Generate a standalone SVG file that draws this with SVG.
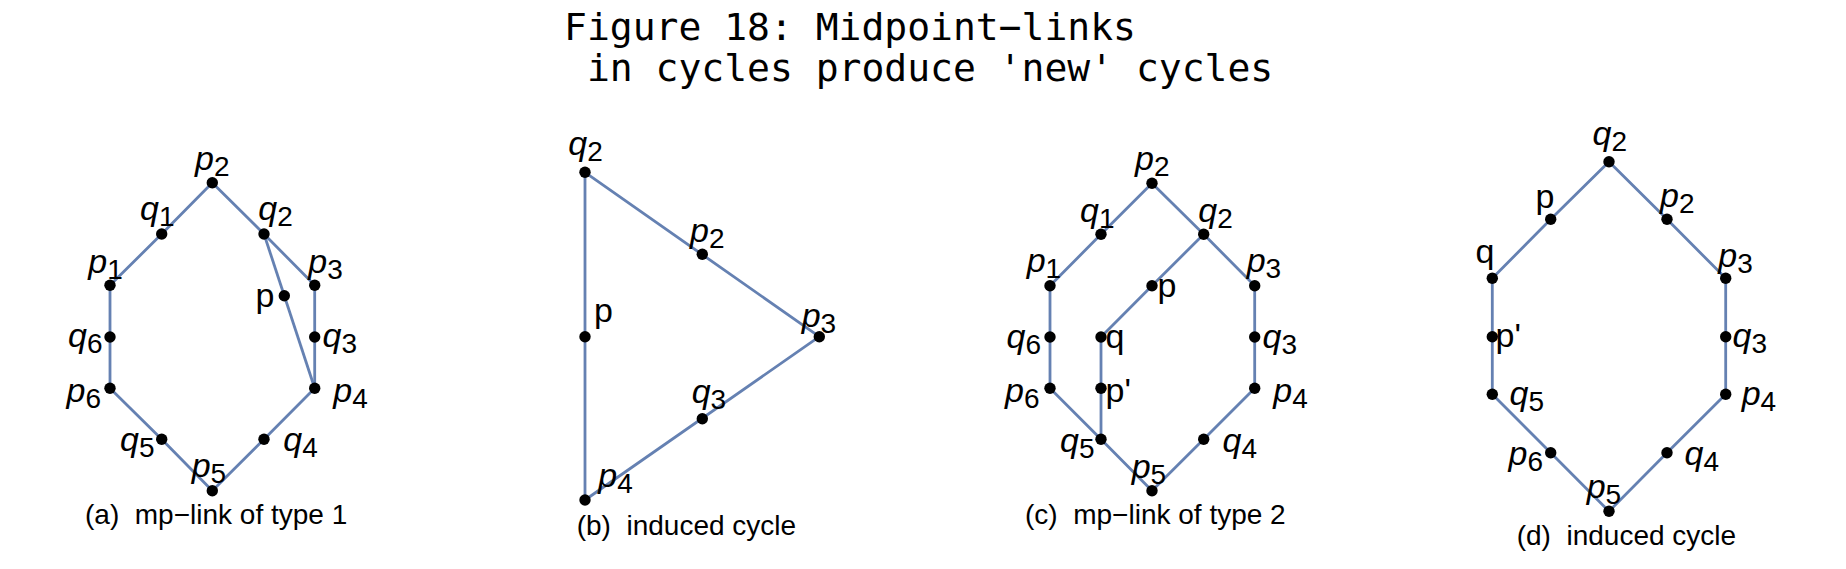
<svg xmlns="http://www.w3.org/2000/svg" width="1846" height="569" viewBox="0 0 1846 569">
<style>
.title{font-family:"DejaVu Sans Mono",monospace;font-size:38px;fill:#000;white-space:pre}
.cap{font-family:"Liberation Sans",Arial,sans-serif;font-size:28px;fill:#000;white-space:pre}
.lb{font-family:"Liberation Sans",Arial,sans-serif;font-size:34px;fill:#000}
.it{font-style:italic}
.sub{font-size:28px;font-style:normal}
.dot{fill:#000}
.edge{fill:none;stroke:#6581b2;stroke-width:2.8;stroke-linejoin:round}
</style>
<rect width="1846" height="569" fill="#fff"/>
<g id="title">
<text class="title" x="564" y="40">Figure 18: Midpoint−links</text>
<text class="title" x="564" y="81"> in cycles produce 'new' cycles</text>
</g>
<g id="connectors">
<polygon class="edge" points="110,285.3 161.7,234 212.3,182.7 264,234 314.7,285.3 314.7,337 314.7,388.3 264,439.3 212.3,490.7 161.7,439.3 110,388.3 110,337"/>
<line class="edge" x1="264" y1="234" x2="314.7" y2="388.3"/>
<polygon class="edge" points="585,172.3 819.3,336.7 585,500"/>
<polygon class="edge" points="1050,285.7 1101,234.3 1152,183.3 1203.7,234.3 1254.7,285.7 1254.7,337 1254.7,388.3 1203.7,439.3 1152,490.7 1101,439.3 1050,388.3 1050,337"/>
<polyline class="edge" points="1203.7,234.3 1152,285.7 1101,337 1101,388.3 1101,439.3"/>
<polygon class="edge" points="1609,161.7 1550.7,219.3 1492.3,278.3 1492.3,336.7 1492.3,394.3 1550.7,452.7 1609,511.3 1667,452.7 1725.7,394.3 1725.7,336.7 1725.7,278.3 1667,219.3"/>
</g>
<g id="panel-a">
<g id="a-p2"><circle class="dot" cx="212.3" cy="182.7" r="5.7"/><text class="lb" x="195" y="170"><tspan class="it">p</tspan><tspan class="sub" dy="6">2</tspan></text></g>
<g id="a-q1"><circle class="dot" cx="161.7" cy="234" r="5.7"/><text class="lb" x="140" y="220"><tspan class="it">q</tspan><tspan class="sub" dy="6">1</tspan></text></g>
<g id="a-q2"><circle class="dot" cx="264" cy="234" r="5.7"/><text class="lb" x="258.3" y="220"><tspan class="it">q</tspan><tspan class="sub" dy="6">2</tspan></text></g>
<g id="a-p1"><circle class="dot" cx="110" cy="285.3" r="5.7"/><text class="lb" x="88.3" y="273.3"><tspan class="it">p</tspan><tspan class="sub" dy="6">1</tspan></text></g>
<g id="a-p3"><circle class="dot" cx="314.7" cy="285.3" r="5.7"/><text class="lb" x="308.3" y="273.3"><tspan class="it">p</tspan><tspan class="sub" dy="6">3</tspan></text></g>
<g id="a-p"><circle class="dot" cx="284.3" cy="295.7" r="5.7"/><text class="lb" x="255.5" y="306.7">p</text></g>
<g id="a-q6"><circle class="dot" cx="110" cy="337" r="5.7"/><text class="lb" x="68" y="346.7"><tspan class="it">q</tspan><tspan class="sub" dy="6">6</tspan></text></g>
<g id="a-q3"><circle class="dot" cx="314.7" cy="337" r="5.7"/><text class="lb" x="322.5" y="346.7"><tspan class="it">q</tspan><tspan class="sub" dy="6">3</tspan></text></g>
<g id="a-p6"><circle class="dot" cx="110" cy="388.3" r="5.7"/><text class="lb" x="66.5" y="401.7"><tspan class="it">p</tspan><tspan class="sub" dy="6">6</tspan></text></g>
<g id="a-p4"><circle class="dot" cx="314.7" cy="388.3" r="5.7"/><text class="lb" x="333.3" y="401.7"><tspan class="it">p</tspan><tspan class="sub" dy="6">4</tspan></text></g>
<g id="a-q5"><circle class="dot" cx="161.7" cy="439.3" r="5.7"/><text class="lb" x="120" y="451"><tspan class="it">q</tspan><tspan class="sub" dy="6">5</tspan></text></g>
<g id="a-q4"><circle class="dot" cx="264" cy="439.3" r="5.7"/><text class="lb" x="283.3" y="451"><tspan class="it">q</tspan><tspan class="sub" dy="6">4</tspan></text></g>
<g id="a-p5"><circle class="dot" cx="212.3" cy="490.7" r="5.7"/><text class="lb" x="191.7" y="477"><tspan class="it">p</tspan><tspan class="sub" dy="6">5</tspan></text></g>
<text class="cap" x="85" y="524">(a)  mp−link of type 1</text>
</g>
<g id="panel-b">
<g id="b-q2"><circle class="dot" cx="585" cy="172.3" r="5.7"/><text class="lb" x="568.3" y="155"><tspan class="it">q</tspan><tspan class="sub" dy="6">2</tspan></text></g>
<g id="b-p2"><circle class="dot" cx="702.3" cy="254.3" r="5.7"/><text class="lb" x="690" y="242"><tspan class="it">p</tspan><tspan class="sub" dy="6">2</tspan></text></g>
<g id="b-p"><circle class="dot" cx="585" cy="336.7" r="5.7"/><text class="lb" x="594" y="321.7">p</text></g>
<g id="b-p3"><circle class="dot" cx="819.3" cy="336.7" r="5.7"/><text class="lb" x="801.7" y="326.7"><tspan class="it">p</tspan><tspan class="sub" dy="6">3</tspan></text></g>
<g id="b-q3"><circle class="dot" cx="702.3" cy="418.7" r="5.7"/><text class="lb" x="691.7" y="403.3"><tspan class="it">q</tspan><tspan class="sub" dy="6">3</tspan></text></g>
<g id="b-p4"><circle class="dot" cx="585" cy="500" r="5.7"/><text class="lb" x="598.3" y="486.7"><tspan class="it">p</tspan><tspan class="sub" dy="6">4</tspan></text></g>
<text class="cap" x="576.7" y="535">(b)  induced cycle</text>
</g>
<g id="panel-c">
<g id="c-p2"><circle class="dot" cx="1152" cy="183.3" r="5.7"/><text class="lb" x="1135" y="170"><tspan class="it">p</tspan><tspan class="sub" dy="6">2</tspan></text></g>
<g id="c-q1"><circle class="dot" cx="1101" cy="234.3" r="5.7"/><text class="lb" x="1080" y="221.7"><tspan class="it">q</tspan><tspan class="sub" dy="6">1</tspan></text></g>
<g id="c-q2"><circle class="dot" cx="1203.7" cy="234.3" r="5.7"/><text class="lb" x="1198.3" y="221.7"><tspan class="it">q</tspan><tspan class="sub" dy="6">2</tspan></text></g>
<g id="c-p1"><circle class="dot" cx="1050" cy="285.7" r="5.7"/><text class="lb" x="1026.7" y="271.7"><tspan class="it">p</tspan><tspan class="sub" dy="6">1</tspan></text></g>
<g id="c-p"><circle class="dot" cx="1152" cy="285.7" r="5.7"/><text class="lb" x="1157.5" y="296.7">p</text></g>
<g id="c-p3"><circle class="dot" cx="1254.7" cy="285.7" r="5.7"/><text class="lb" x="1246.7" y="271.7"><tspan class="it">p</tspan><tspan class="sub" dy="6">3</tspan></text></g>
<g id="c-q6"><circle class="dot" cx="1050" cy="337" r="5.7"/><text class="lb" x="1006.5" y="348.3"><tspan class="it">q</tspan><tspan class="sub" dy="6">6</tspan></text></g>
<g id="c-q"><circle class="dot" cx="1101" cy="337" r="5.7"/><text class="lb" x="1105.5" y="348.3">q</text></g>
<g id="c-q3"><circle class="dot" cx="1254.7" cy="337" r="5.7"/><text class="lb" x="1262.5" y="348.3"><tspan class="it">q</tspan><tspan class="sub" dy="6">3</tspan></text></g>
<g id="c-p6"><circle class="dot" cx="1050" cy="388.3" r="5.7"/><text class="lb" x="1005" y="401.7"><tspan class="it">p</tspan><tspan class="sub" dy="6">6</tspan></text></g>
<g id="c-pprime"><circle class="dot" cx="1101" cy="388.3" r="5.7"/><text class="lb" x="1105.5" y="401.7">p'</text></g>
<g id="c-p4"><circle class="dot" cx="1254.7" cy="388.3" r="5.7"/><text class="lb" x="1273.3" y="401.7"><tspan class="it">p</tspan><tspan class="sub" dy="6">4</tspan></text></g>
<g id="c-q5"><circle class="dot" cx="1101" cy="439.3" r="5.7"/><text class="lb" x="1060" y="452"><tspan class="it">q</tspan><tspan class="sub" dy="6">5</tspan></text></g>
<g id="c-q4"><circle class="dot" cx="1203.7" cy="439.3" r="5.7"/><text class="lb" x="1222.5" y="452"><tspan class="it">q</tspan><tspan class="sub" dy="6">4</tspan></text></g>
<g id="c-p5"><circle class="dot" cx="1152" cy="490.7" r="5.7"/><text class="lb" x="1131.7" y="478"><tspan class="it">p</tspan><tspan class="sub" dy="6">5</tspan></text></g>
<text class="cap" x="1025" y="524">(c)  mp−link of type 2</text>
</g>
<g id="panel-d">
<g id="d-q2"><circle class="dot" cx="1609" cy="161.7" r="5.7"/><text class="lb" x="1592.5" y="145"><tspan class="it">q</tspan><tspan class="sub" dy="6">2</tspan></text></g>
<g id="d-p"><circle class="dot" cx="1550.7" cy="219.3" r="5.7"/><text class="lb" x="1535.5" y="208.3">p</text></g>
<g id="d-p2"><circle class="dot" cx="1667" cy="219.3" r="5.7"/><text class="lb" x="1660" y="206.7"><tspan class="it">p</tspan><tspan class="sub" dy="6">2</tspan></text></g>
<g id="d-q"><circle class="dot" cx="1492.3" cy="278.3" r="5.7"/><text class="lb" x="1475.5" y="263.3">q</text></g>
<g id="d-p3"><circle class="dot" cx="1725.7" cy="278.3" r="5.7"/><text class="lb" x="1718.3" y="266.7"><tspan class="it">p</tspan><tspan class="sub" dy="6">3</tspan></text></g>
<g id="d-pprime"><circle class="dot" cx="1492.3" cy="336.7" r="5.7"/><text class="lb" x="1495.5" y="346.7">p'</text></g>
<g id="d-q3"><circle class="dot" cx="1725.7" cy="336.7" r="5.7"/><text class="lb" x="1732.5" y="346.7"><tspan class="it">q</tspan><tspan class="sub" dy="6">3</tspan></text></g>
<g id="d-q5"><circle class="dot" cx="1492.3" cy="394.3" r="5.7"/><text class="lb" x="1509.5" y="405"><tspan class="it">q</tspan><tspan class="sub" dy="6">5</tspan></text></g>
<g id="d-p4"><circle class="dot" cx="1725.7" cy="394.3" r="5.7"/><text class="lb" x="1741.7" y="405"><tspan class="it">p</tspan><tspan class="sub" dy="6">4</tspan></text></g>
<g id="d-p6"><circle class="dot" cx="1550.7" cy="452.7" r="5.7"/><text class="lb" x="1508.5" y="465"><tspan class="it">p</tspan><tspan class="sub" dy="6">6</tspan></text></g>
<g id="d-q4"><circle class="dot" cx="1667" cy="452.7" r="5.7"/><text class="lb" x="1684.5" y="465"><tspan class="it">q</tspan><tspan class="sub" dy="6">4</tspan></text></g>
<g id="d-p5"><circle class="dot" cx="1609" cy="511.3" r="5.7"/><text class="lb" x="1586.7" y="498.3"><tspan class="it">p</tspan><tspan class="sub" dy="6">5</tspan></text></g>
<text class="cap" x="1516.7" y="545">(d)  induced cycle</text>
</g>
</svg>
